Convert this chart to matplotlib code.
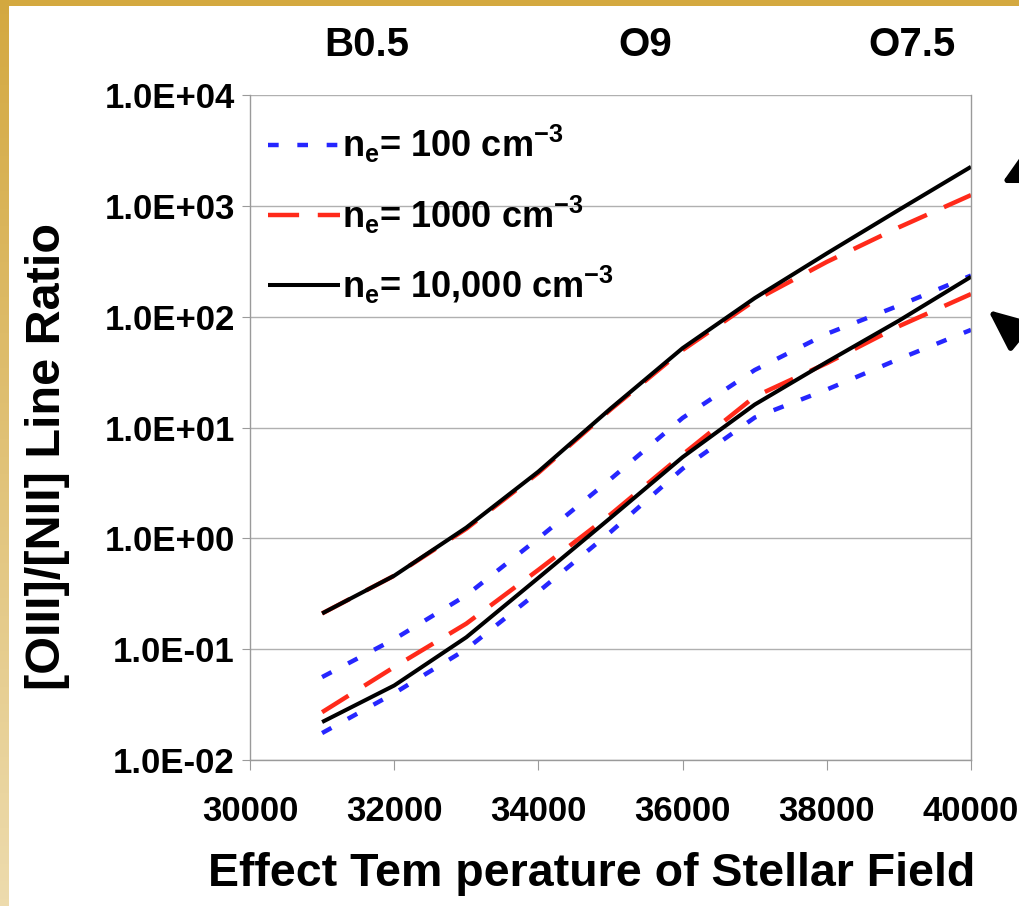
import numpy as np
import matplotlib
matplotlib.use("Agg")
import matplotlib.pyplot as plt
from matplotlib import font_manager as fm

# ---------------- data ----------------
temps = [31000, 32000, 33000, 34000, 35000, 36000, 37000, 38000, 39000, 40000]

# upper group of curves
black_upper = [0.21, 0.46, 1.25, 4.0, 14.8, 52, 147, 372, 920, 2250]
red_upper   = [0.21, 0.46, 1.22, 3.9, 14.5, 50, 140, 312, 640, 1250]
blue_upper  = [0.056, 0.123, 0.306, 1.0, 3.42, 12.2, 33, 70, 126, 235]

# lower group of curves
black_lower = [0.022, 0.047, 0.128, 0.44, 1.53, 5.4, 16.1, 39, 92, 229]
red_lower   = [0.027, 0.069, 0.17, 0.52, 1.64, 5.7, 19, 38, 82, 160]
blue_lower  = [0.0175, 0.040, 0.10, 0.33, 1.14, 4.25, 12.3, 22, 41.5, 76]

legend_labels = [r"n$_\mathbf{e}$= 100 cm$^\mathbf{-3}$",
                 r"n$_\mathbf{e}$= 1000 cm$^\mathbf{-3}$",
                 r"n$_\mathbf{e}$= 10,000 cm$^\mathbf{-3}$"]
x_ticks = [30000, 32000, 34000, 36000, 38000, 40000]
y_ticks = [1e-2, 1e-1, 1e0, 1e1, 1e2, 1e3, 1e4]
y_ticklabels = ["1.0E-02", "1.0E-01", "1.0E+00", "1.0E+01", "1.0E+02", "1.0E+03", "1.0E+04"]
spectral_types = ["B0.5", "O9", "O7.5"]
spectral_temps = [31620, 35480, 39180]

# ---------------- fonts ----------------
names = {f.name for f in fm.fontManager.ttflist}
base_font = "Liberation Sans" if "Liberation Sans" in names else "DejaVu Sans"
plt.rcParams["font.family"] = [base_font, "DejaVu Sans"]
plt.rcParams["font.weight"] = "bold"
plt.rcParams["mathtext.fontset"] = "custom"
plt.rcParams["mathtext.rm"] = base_font + ":bold"
plt.rcParams["mathtext.bf"] = base_font + ":bold"
plt.rcParams["mathtext.it"] = base_font + ":bold"
plt.rcParams["mathtext.default"] = "bf"

W, H = 1019, 906
fig = plt.figure(figsize=(W / 100, H / 100), dpi=100, facecolor="white")

# decorative golden border (top and left)
top_ax = fig.add_axes([0, 1 - 6 / H, 1, 6 / H])
top_ax.set_axis_off()
top_ax.add_patch(plt.Rectangle((0, 0), 1, 1, color="#d4a940", transform=top_ax.transAxes))
left_ax = fig.add_axes([0, 0, 9 / W, 1])
left_ax.set_axis_off()
grad = np.linspace(0, 1, 256)[:, None]
c_top = np.array([0.83, 0.66, 0.25])
c_bot = np.array([0.93, 0.86, 0.68])
img = c_top[None, None, :] * (1 - grad[..., None]) + c_bot[None, None, :] * grad[..., None]
left_ax.imshow(img, aspect="auto", extent=[0, 1, 0, 1], origin="upper")

ax = fig.add_axes([250 / W, (H - 760) / H, 721 / W, 665 / H])
ax.set_yscale("log")
ax.set_xlim(30000, 40000)
ax.set_ylim(1e-2, 1e4)

blue_kw = dict(color="#2626ff", lw=3.2, dashes=(2.4, 4.2), dash_capstyle="butt")
red_kw = dict(color="#ff2a1a", lw=3.2, dashes=(7.0, 4.2), dash_capstyle="butt")
black_kw = dict(color="black", lw=2.9, solid_capstyle="butt")

ax.plot(temps, blue_upper, **blue_kw, label=legend_labels[0])
ax.plot(temps, blue_lower, **blue_kw)
ax.plot(temps, red_upper, **red_kw, label=legend_labels[1])
ax.plot(temps, red_lower, **red_kw)
ax.plot(temps, black_upper, **black_kw, label=legend_labels[2])
ax.plot(temps, black_lower, **black_kw)

# grid / spines
for yv in y_ticks:
    ax.axhline(yv, color="#b0b0b0", lw=1.0, zorder=0)
for s in ["left", "bottom", "right", "top"]:
    ax.spines[s].set_color("#9a9a9a")
    ax.spines[s].set_linewidth(1.0)
ax.spines["top"].set_visible(False)

ax.set_xticks(x_ticks)
ax.set_xticklabels([str(t) for t in x_ticks], fontsize=25, fontweight="bold")
ax.set_yticks(y_ticks)
ax.set_yticklabels(y_ticklabels, fontsize=25, fontweight="bold")
ax.yaxis.set_minor_locator(matplotlib.ticker.NullLocator())
ax.tick_params(axis="x", direction="out", length=7, color="#9a9a9a", pad=18)
ax.tick_params(axis="y", direction="out", length=6, color="#9a9a9a", pad=5)

ax.set_xlabel("Effect Tem perature of Stellar Field", fontsize=33.5, fontweight="bold")
ax.xaxis.set_label_coords((592 - 250) / 721, (760 - 852) / 665)
ax.set_ylabel("[OIII]/[NII] Line Ratio", fontsize=35, fontweight="bold")
ax.yaxis.set_label_coords((70 - 250) / 721, (760 - 457) / 665)

# spectral type labels on top
for lab, t in zip(spectral_types, spectral_temps):
    ax.text(t, 1.0 + 50 / 665, lab, transform=ax.get_xaxis_transform(),
            ha="center", va="center", fontsize=29, fontweight="bold")

leg = ax.legend(loc="upper left", frameon=False, fontsize=26, handlelength=2.0,
                handletextpad=0.05, labelspacing=0.78, borderaxespad=0.0,
                borderpad=0.0, bbox_to_anchor=(18 / 721, 1 - 28 / 665))
for t in leg.get_texts():
    t.set_fontweight("bold")

# arrows at the right edge (partly clipped by the figure edge)
ax.annotate("", xy=(1002, H - 183), xycoords="figure pixels",
            xytext=(1085, H - 140), textcoords="figure pixels",
            arrowprops=dict(arrowstyle="-|>,head_length=1.25,head_width=0.65",
                            mutation_scale=20, color="black", lw=4,
                            shrinkA=0, shrinkB=0),
            annotation_clip=False)
ax.annotate("", xy=(988, H - 310), xycoords="figure pixels",
            xytext=(1058, H - 367), textcoords="figure pixels",
            arrowprops=dict(arrowstyle="-|>,head_length=1.25,head_width=0.55",
                            mutation_scale=20, color="black", lw=4,
                            shrinkA=0, shrinkB=0),
            annotation_clip=False)

fig.savefig("out.png", dpi=100, facecolor="white")
